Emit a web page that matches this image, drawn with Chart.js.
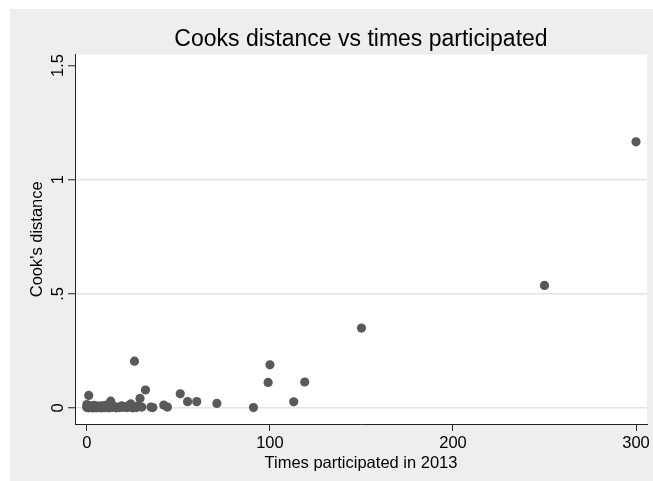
<!DOCTYPE html>
<html>
<head>
<meta charset="utf-8">
<script src="https://cdn.jsdelivr.net/npm/chart.js@4.4.0/dist/chart.umd.min.js"></script>
<style>
html, body { margin: 0; padding: 0; background: #fff; }
#wrap { width: 653px; height: 481px; }
</style>
</head>
<body>
<div id="wrap"><canvas id="mycanvas" width="653" height="481"></canvas></div>
<script>
// times participated in 2013 (x) and Cook's distance (y)
var timesParticipated = [0, 0, 0, 1, 1, 1, 2, 2, 3, 3, 4, 4, 5, 5, 6, 6, 7, 8, 8, 9,
	10, 10, 11, 12, 13, 13, 14, 15, 16, 17, 18, 19, 20, 21, 22, 23, 24, 24, 25, 26,
	26, 27, 28, 29, 30, 32, 35, 36, 42, 44, 51, 55, 60, 71, 91, 99, 100, 113, 119, 150,
	250, 300];
var cooksDistance = [0.002, 0.008, 0.015, 0.001, 0.005, 0.055, 0.003, 0.010, 0.001, 0.006, 0.002, 0.012, 0.001, 0.004, 0.008, 0.002, 0.003, 0.001, 0.010, 0.004,
	0.002, 0.012, 0.005, 0.001, 0.030, 0.008, 0.003, 0.006, 0.001, 0.004, 0.002, 0.009, 0.003, 0.006, 0.002, 0.012, 0.004, 0.018, 0.001, 0.205,
	0.006, 0.002, 0.008, 0.042, 0.004, 0.079, 0.004, 0.002, 0.013, 0.004, 0.062, 0.028, 0.028, 0.020, 0.002, 0.112, 0.189, 0.027, 0.114, 0.350,
	0.537, 1.166];

var xTicks = [0, 100, 200, 300];
var yTicks = [0, 0.5, 1, 1.5];
var yTickLabels = ["0", ".5", "1", "1.5"];

var chartTitle = "Cooks distance vs times participated";
var xTitle = "Times participated in 2013";
var yTitle = "Cook's distance";

var FONT = "'Liberation Sans', Arial, Helvetica, sans-serif";

var points = [];
for (var i in timesParticipated) {
	points.push({ x: timesParticipated[i], y: cooksDistance[i] });
}

// stata-like backgrounds: white outer margin, gray graph region, white plot region
var backgrounds = {
	id: "backgrounds",
	afterLayout: function(chart) {
		// center the title over the plot region, not the whole canvas
		if (chart.titleBlock) {
			chart.titleBlock.left = chart.chartArea.left;
			chart.titleBlock.right = chart.chartArea.right;
		}
	},
	beforeDraw: function(chart) {
		var c = chart.ctx, a = chart.chartArea;
		c.save();
		c.fillStyle = "#ffffff";
		c.fillRect(0, 0, chart.width, chart.height);
		c.fillStyle = "#eeeeee";
		c.fillRect(10, 9, chart.width - 10, chart.height - 9);
		c.fillStyle = "#ffffff";
		c.fillRect(a.left, a.top, a.right - a.left, a.bottom - a.top);
		c.restore();
	}
};

var ctx = document.getElementById("mycanvas");
var scatter = new Chart(ctx, {
	type: "scatter",
	data: {
		datasets: [{
			data: points,
			pointRadius: 4.6,
			pointHoverRadius: 4.6,
			pointBackgroundColor: "#595959",
			pointBorderWidth: 0
		}]
	},
	options: {
		responsive: false,
		animation: false,
		events: [],
		layout: { padding: { left: 0, top: 0, right: 6, bottom: 0 } },
		plugins: {
			legend: { display: false },
			tooltip: { enabled: false },
			title: {
				display: true,
				text: chartTitle,
				color: "#000",
				font: { family: FONT, size: 23, weight: "normal", lineHeight: 1.2 },
				padding: { top: 26, bottom: 1 }
			}
		},
		scales: {
			x: {
				type: "linear",
				min: -6.5,
				max: 306,
				afterBuildTicks: function(scale) {
					scale.ticks = xTicks.map(function(v) { return { value: v }; });
				},
				afterFit: function(scale) {
					scale.height = 57;
					scale.paddingLeft = 0;
					scale.paddingRight = 0;
				},
				ticks: {
					color: "#000",
					font: { family: FONT, size: 16.5, lineHeight: 1.2 },
					padding: 3,
					maxRotation: 0,
					autoSkip: false
				},
				grid: {
					drawOnChartArea: false,
					tickLength: 7,
					tickColor: "#222",
					tickWidth: 1
				},
				border: { display: true, color: "#222", width: 1 },
				title: {
					display: true,
					text: xTitle,
					color: "#000",
					font: { family: FONT, size: 16.5, lineHeight: 1.2 },
					padding: { top: 0, bottom: 8 }
				}
			},
			y: {
				type: "linear",
				min: -0.07,
				max: 1.548,
				afterBuildTicks: function(scale) {
					scale.ticks = yTicks.map(function(v) { return { value: v }; });
				},
				afterFit: function(scale) {
					scale.width = 75;
					scale.paddingTop = 0;
					scale.paddingBottom = 0;
				},
				ticks: {
					color: "#000",
					font: { family: FONT, size: 16.5, lineHeight: 1.2 },
					padding: -2,
					minRotation: 90,
					maxRotation: 90,
					crossAlign: "center",
					autoSkip: false,
					callback: function(value) {
						var k = yTicks.indexOf(value);
						return k >= 0 ? yTickLabels[k] : "";
					}
				},
				grid: {
					color: function(c) {
						return c.tick && c.tick.value === 1.5 ? "rgba(0,0,0,0)" : "#e4e4e4";
					},
					lineWidth: 1.5,
					tickLength: 7,
					tickColor: "#222",
					tickWidth: 1
				},
				border: { display: true, color: "#222", width: 1 },
				title: {
					display: true,
					text: yTitle,
					color: "#000",
					font: { family: FONT, size: 16.5, lineHeight: 1.2 },
					padding: { top: 28, bottom: 0 }
				}
			}
		}
	},
	plugins: [backgrounds]
});
</script>
</body>
</html>
